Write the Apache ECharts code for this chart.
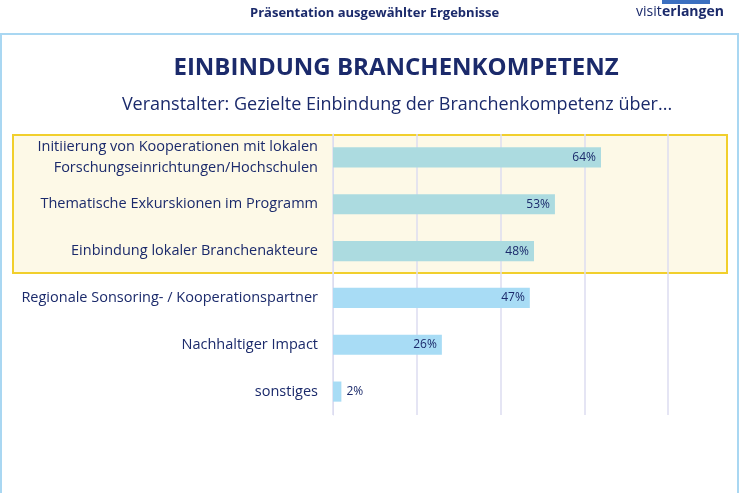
<!DOCTYPE html>
<html>
<head>
<meta charset="utf-8">
<script src="https://cdn.jsdelivr.net/npm/echarts@6/dist/echarts.min.js"></script>
<style>
  html, body { margin: 0; padding: 0; background: #fff; }
  #main { width: 740px; height: 493px; }
</style>
</head>
<body>
<div id="main"></div>
<script>
var categories = [
    'Initiierung von Kooperationen mit lokalen\nForschungseinrichtungen/Hochschulen',
    'Thematische Exkurskionen im Programm',
    'Einbindung lokaler Branchenakteure',
    'Regionale Sonsoring- / Kooperationspartner',
    'Nachhaltiger Impact',
    'sonstiges'
];
var values = [64, 53, 48, 47, 26, 2];
var highlighted = [true, true, true, false, false, false];
var ticks = [0, 20, 40, 60, 80];

var navy = '#1b2a6b';
var myChart = echarts.init(document.getElementById('main'));

// ECharts category axis goes bottom-up, so reverse for top-down order
var cats = categories.slice().reverse();
var data = values.map(function (v, i) {
    return {
        value: v,
        itemStyle: { color: highlighted[i] ? '#acdbe0' : '#a8dcf5' },
        label: { position: v < 5 ? 'right' : 'insideRight' }
    };
}).reverse();

var option = {
    textStyle: { fontFamily: 'Open Sans' },
    graphic: [
        // outer frame
        { type: 'rect', shape: { x: 1, y: 34, width: 737, height: 470 },
          style: { fill: 'none', stroke: '#a9d7f2', lineWidth: 2 }, z: -10 },
        // highlight box
        { type: 'rect', shape: { x: 13, y: 135, width: 714, height: 138 },
          style: { fill: '#fdf9e7', stroke: '#f1cf2c', lineWidth: 2 }, z: -5 },
        { type: 'text', left: 250, top: 7,
          style: { text: 'Präsentation ausgewählter Ergebnisse', font: 'bold 13px "Open Sans"', fill: navy } },
        { type: 'text', left: 636, top: 5,
          style: { text: 'visit', font: '14px "Open Sans"', fill: navy } },
        { type: 'text', left: 662, top: 5,
          style: { text: 'erlangen', font: 'bold 14px "Open Sans"', fill: navy } },
        { type: 'rect', shape: { x: 662, y: 0, width: 48, height: 4 },
          style: { fill: '#3b6fc0' } }
    ],
    title: [
        { text: 'EINBINDUNG BRANCHENKOMPETENZ', left: 391, textAlign: 'center', top: 51,
          textStyle: { fontSize: 24, fontWeight: 'bold', color: navy, fontFamily: 'Open Sans' } },
        { text: 'Veranstalter: Gezielte Einbindung der Branchenkompetenz über...', left: 392, textAlign: 'center', top: 91,
          textStyle: { fontSize: 18, fontWeight: 'normal', color: navy, fontFamily: 'Open Sans' } }
    ],
    grid: { left: 333, right: 72, top: 134, bottom: 78 },
    xAxis: {
        type: 'value', min: 0, max: 80, interval: 20,
        axisLabel: { show: false },
        axisLine: { show: false },
        splitLine: { lineStyle: { color: '#dcdcf0', width: 1.5 } }
    },
    yAxis: {
        type: 'category', data: cats,
        axisLine: { lineStyle: { color: '#dcdcf0' } },
        axisTick: { lineStyle: { color: '#dcdcf0' } },
        axisLabel: { color: navy, fontSize: 14.5, lineHeight: 21, margin: 15 }
    },
    series: [{
        type: 'bar', data: data, barWidth: '43%',
        label: { show: true, formatter: '{c}%', color: navy, fontSize: 12 },
        silent: true
    }]
};
myChart.setOption(option);
</script>
</body>
</html>
